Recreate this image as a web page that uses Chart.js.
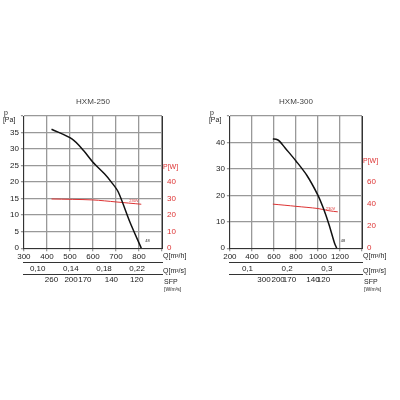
<!DOCTYPE html><html><head><script src="https://cdn.jsdelivr.net/npm/chart.js@4"></script>
<style>body{margin:0;background:#fff}.c{position:absolute;top:86px;width:200px;height:212px}</style></head><body>
<div class="c" style="left:0"><canvas id="a"></canvas></div>
<div class="c" style="left:204px;width:196px"><canvas id="b"></canvas></div>
<script>
// HXM-250
const q1=[420,510,560,600,650,680,710,760,810];
const p1=[36,33,29.5,26,22.5,20,17,8,0];
const pwQ1=[420,600,700,810];
const pw1=[29.8,29.2,28,26.6];
const qsTicks1=[{v:360,l:'0,10'},{v:504,l:'0,14'},{v:648,l:'0,18'},{v:792,l:'0,22'}];
const sfpTicks1=[{v:420,l:'260'},{v:505,l:'200'},{v:565,l:'170'},{v:680,l:'140'},{v:790,l:'120'}];
// HXM-300
const q2=[590,620,650,700,800,900,1000,1050,1100,1150,1170];
const p2=[41.3,41.2,40.5,38,33,27.5,20,15,9,2,0];
const pwQ2=[590,700,800,1000,1100,1180];
const pw2=[40,39,38,36,34,33];
const qsTicks2=[{v:360,l:'0,1'},{v:720,l:'0,2'},{v:1080,l:'0,3'}];
const sfpTicks2=[{v:509,l:'300'},{v:638,l:'200'},{v:741,l:'170'},{v:955,l:'140'},{v:1050,l:'120'}];

function mk(id,title,q,p,pq,pw,xmin,xmax,xstep,ymax,ystep,rmax,rstep,rshow,qs,sfp,lp){
  const F={family:'Arial, Liberation Sans',size:8};
  const custom=(arr)=>({type:'linear',min:xmin,max:xmax,position:'bottom',
    afterBuildTicks:s=>{s.ticks=arr.map(t=>({value:t.v}));},
    ticks:{callback:v=>{const t=arr.find(a=>a.v===v);return t?t.l:''},font:F,color:'#222',maxRotation:0,autoSkip:false,padding:1},
    grid:{display:false,drawTicks:false},border:{display:true,color:'#333'}});
  const lab={id:'lab',afterDraw(c){const x=c.ctx,ca=c.chartArea;x.save();x.font='7px Arial';x.fillStyle='#222';
    x.textAlign='left';x.fillText('p',ca.left-20,ca.top-1);x.fillText('[Pa]',ca.left-21,ca.top+6);
    const sx=c.scales.x,sq=c.scales.xq,ss=c.scales.xs;
    x.fillText('Q[m³/h]',ca.right+1,sx.top+10);x.fillText('Q[m³/s]',ca.right+1,sq.top+10);
    x.fillText('SFP',ca.right+2,ss.top+10);x.font='5px Arial';x.fillText('[W/m³s]',ca.right+2,ss.top+17);
    x.fillStyle='#d33';x.font='7px Arial';const yr=c.scales.yr;x.fillText('P[W]',ca.right+1,yr.getPixelForValue(rshow+rstep)+3);
    x.font='4px Arial';x.fillText('230V',c.scales.x.getPixelForValue(pq[pq.length-1])-12,yr.getPixelForValue(pw[pw.length-1])-2);
    x.fillStyle='#222';x.fillText('48',c.scales.x.getPixelForValue(q[q.length-1])+4,ca.bottom-6);
    x.font='8px Arial';x.fillStyle='#444';x.textAlign='center';x.fillText(title,(ca.left+ca.right)/2,ca.top-12);x.restore();}};
  new Chart(document.getElementById(id),{type:'scatter',
    data:{datasets:[
      {data:q.map((v,i)=>({x:v,y:p[i]})),showLine:true,borderColor:'#111',borderWidth:1.5,pointRadius:0,tension:0.3,yAxisID:'y'},
      {data:pq.map((v,i)=>({x:v,y:pw[i]})),showLine:true,borderColor:'#d33',borderWidth:1,pointRadius:0,tension:0.3,yAxisID:'yr'}]},
    options:{animation:false,responsive:true,maintainAspectRatio:false,
      layout:{padding:{top:30,right:6,left:lp,bottom:12}},
      plugins:{legend:{display:false},tooltip:{enabled:false}},
      scales:{
        x:{type:'linear',min:xmin,max:xmax,position:'bottom',ticks:{stepSize:xstep,font:F,color:'#222',maxRotation:0,padding:1,callback:v=>v<xmax?v:''},
           grid:{color:'#999',lineWidth:1.3,tickLength:3},border:{color:'#333'}},
        xq:custom(qs),xs:custom(sfp),
        y:{min:0,max:ymax,ticks:{stepSize:ystep,font:F,color:'#222',padding:2,callback:v=>v<ymax?v:''},grid:{color:'#999',lineWidth:1.3,tickLength:3},border:{color:'#333'}},
        yr:{position:'right',min:0,max:rmax,ticks:{stepSize:rstep,font:F,color:'#d33',padding:2,callback:v=>v<=rshow?v:''},
           grid:{display:false,tickColor:'#d33',tickLength:3},border:{color:'#333'},afterFit:s=>{s.width=32}}}},
    plugins:[lab]});
}
mk('a','HXM-250',q1,p1,pwQ1,pw1,300,900,100,40,5,80,10,40,qsTicks1,sfpTicks1,8);
mk('b','HXM-300',q2,p2,pwQ2,pw2,200,1400,200,50,10,120,20,60,qsTicks2,sfpTicks2,10);
</script></body></html>
